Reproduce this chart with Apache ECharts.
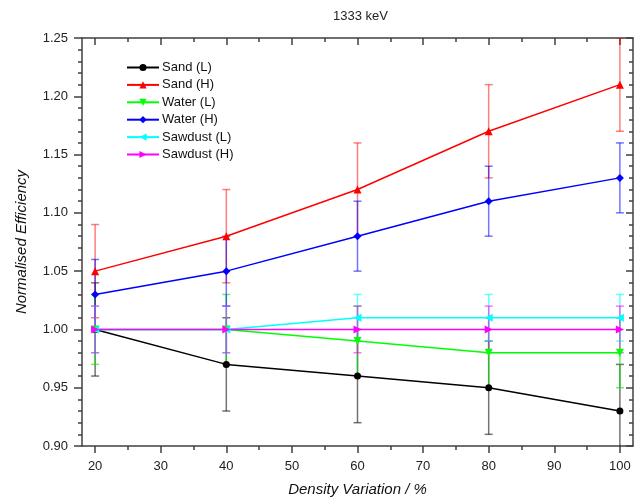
<!DOCTYPE html>
<html>
<head>
  <meta charset="UTF-8">
  <script src="https://cdn.jsdelivr.net/npm/echarts@6/dist/echarts.min.js"></script>
  <style>
    html, body { margin: 0; padding: 0; background: #fff; }
    #chart { width: 640px; height: 502px; }
  </style>
</head>
<body>
<div id="chart"></div>
<script type="text/javascript">
  // density variation (%)
  var density = [20, 40, 60, 80, 100];
  var xTicks = [20, 30, 40, 50, 60, 70, 80, 90, 100];

  var sandL = [1.00, 0.97, 0.96, 0.95, 0.93];
  var sandLErr = [0.04, 0.04, 0.04, 0.04, 0.04];
  var sandH = [1.05, 1.08, 1.12, 1.17, 1.21];
  var sandHErr = [0.04, 0.04, 0.04, 0.04, 0.04];
  var waterL = [1.00, 1.00, 0.99, 0.98, 0.98];
  var waterLErr = [0.03, 0.03, 0.03, 0.03, 0.03];
  var waterH = [1.03, 1.05, 1.08, 1.11, 1.13];
  var waterHErr = [0.03, 0.03, 0.03, 0.03, 0.03];
  var sawdustL = [1.00, 1.00, 1.01, 1.01, 1.01];
  var sawdustLErr = [0.02, 0.02, 0.02, 0.02, 0.02];
  var sawdustH = [1.00, 1.00, 1.00, 1.00, 1.00];
  var sawdustHErr = [0.02, 0.02, 0.02, 0.02, 0.02];

  var font = 'Liberation Sans, Arial, sans-serif';

  var groups = [
    {name: 'Sand (L)', y: sandL, err: sandLErr, color: '#000000', bar: 'rgba(0,0,0,0.55)', symbol: 'circle', rot: 0, size: 7},
    {name: 'Sand (H)', y: sandH, err: sandHErr, color: '#ff0000', bar: 'rgba(255,0,0,0.5)', symbol: 'triangle', rot: 0, size: 8},
    {name: 'Water (L)', y: waterL, err: waterLErr, color: '#00ff00', bar: 'rgba(0,230,0,0.6)', symbol: 'triangle', rot: 180, size: 8},
    {name: 'Water (H)', y: waterH, err: waterHErr, color: '#0000ff', bar: 'rgba(0,0,255,0.55)', symbol: 'diamond', rot: 0, size: 8},
    {name: 'Sawdust (L)', y: sawdustL, err: sawdustLErr, color: '#00ffff', bar: 'rgba(0,255,255,0.6)', symbol: 'triangle', rot: 90, size: 8},
    {name: 'Sawdust (H)', y: sawdustH, err: sawdustHErr, color: '#ff00ff', bar: 'rgba(255,0,255,0.55)', symbol: 'triangle', rot: -90, size: 8}
  ];

  function errorBar(color) {
    return function (params, api) {
      var x = api.value(0);
      var top = api.coord([x, api.value(2)]);
      var bot = api.coord([x, api.value(1)]);
      var w = 4;
      var st = {stroke: color, lineWidth: 1.5};
      return {
        type: 'group',
        children: [
          {type: 'line', shape: {x1: top[0], y1: top[1], x2: bot[0], y2: bot[1]}, style: st},
          {type: 'line', shape: {x1: top[0] - w, y1: top[1], x2: top[0] + w, y2: top[1]}, style: st},
          {type: 'line', shape: {x1: bot[0] - w, y1: bot[1], x2: bot[0] + w, y2: bot[1]}, style: st}
        ]
      };
    };
  }

  var series = [];
  groups.forEach(function (g) {
    series.push({
      name: g.name + ' err',
      type: 'custom',
      clip: true,
      z: 1,
      renderItem: errorBar(g.bar),
      encode: {x: 0, y: [1, 2]},
      data: density.map(function (x, i) { return [x, g.y[i] - g.err[i], g.y[i] + g.err[i]]; })
    });
  });
  groups.forEach(function (g) {
    series.push({
      name: g.name,
      type: 'line',
      z: 3,
      symbol: g.symbol,
      symbolRotate: g.rot,
      symbolSize: g.size,
      showAllSymbol: true,
      itemStyle: {color: g.color},
      lineStyle: {color: g.color, width: 1.5},
      data: density.map(function (x, i) { return [x, g.y[i]]; })
    });
  });

  var axisLine = {show: true, lineStyle: {color: '#404040', width: 1.5}};

  var chart = echarts.init(document.getElementById('chart'));
  chart.setOption({
    animation: false,
    backgroundColor: '#ffffff',
    title: {
      text: '1333 keV',
      left: 328,
      top: 5,
      textStyle: {fontFamily: font, fontSize: 13, fontWeight: 'normal', color: '#222'}
    },
    legend: {
      orient: 'vertical',
      left: 126,
      top: 61,
      padding: 0,
      itemWidth: 32,
      itemHeight: 9,
      itemGap: 4.4,
      symbolRotate: 'inherit',
      data: groups.map(function (g) { return g.name; }),
      textStyle: {fontFamily: font, fontSize: 13, color: '#111', padding: [0, 0, 0, -2]}
    },
    grid: {left: 82, right: 7, top: 38, bottom: 55},
    xAxis: [{
      type: 'value',
      min: 18,
      max: 102,
      splitNumber: 8,
      name: 'Density Variation / %',
      nameLocation: 'middle',
      nameGap: 36,
      nameTextStyle: {fontFamily: font, fontSize: 15, fontStyle: 'italic', color: '#111'},
      axisLine: axisLine,
      axisTick: {show: true, length: 7, lineStyle: {color: '#404040', width: 1.5},
        customValues: xTicks},
      minorTick: {show: true, splitNumber: 2, length: 4, lineStyle: {color: '#404040', width: 1.5}},
      splitLine: {show: false},
      axisLabel: {fontFamily: font, fontSize: 13, color: '#222', margin: 14,
        customValues: xTicks}
    }, {
      type: 'value',
      position: 'top',
      min: 18,
      max: 102,
      splitNumber: 8,
      axisLine: axisLine,
      axisTick: {show: true, inside: true, length: 7, lineStyle: {color: '#404040', width: 1.5},
        customValues: xTicks},
      minorTick: {show: true, splitNumber: 2, length: 4, lineStyle: {color: '#404040', width: 1.5}},
      splitLine: {show: false},
      axisLabel: {show: false}
    }],
    yAxis: [{
      type: 'value',
      min: 0.9,
      max: 1.25,
      interval: 0.05,
      name: 'Normalised Efficiency',
      nameLocation: 'middle',
      nameGap: 53,
      nameTextStyle: {fontFamily: font, fontSize: 15, fontStyle: 'italic', color: '#111'},
      axisLine: axisLine,
      axisTick: {show: true, length: 8, lineStyle: {color: '#404040', width: 1.5}},
      minorTick: {show: true, splitNumber: 5, length: 4, lineStyle: {color: '#404040', width: 1.5}},
      splitLine: {show: false},
      axisLabel: {fontFamily: font, fontSize: 13, color: '#222', margin: 14,
        formatter: function (v) { return v.toFixed(2); }}
    }, {
      type: 'value',
      position: 'right',
      min: 0.9,
      max: 1.25,
      interval: 0.05,
      axisLine: axisLine,
      axisTick: {show: true, inside: true, length: 7, lineStyle: {color: '#404040', width: 1.5}},
      minorTick: {show: true, splitNumber: 5, length: 4, lineStyle: {color: '#404040', width: 1.5}},
      splitLine: {show: false},
      axisLabel: {show: false}
    }],
    series: series
  });
</script>
</body>
</html>
